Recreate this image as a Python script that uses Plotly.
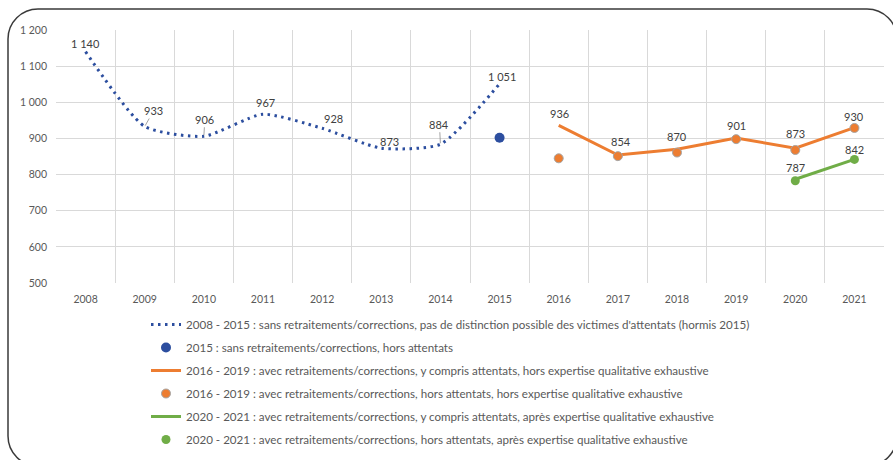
import plotly.graph_objects as go

# ---------------- data ----------------
years = [str(y) for y in range(2008, 2022)]

s1_years = ["2008", "2009", "2010", "2011", "2012", "2013", "2014", "2015"]
s1_vals = [1140, 933, 906, 967, 928, 873, 884, 1051]
s1_name = "2008 - 2015 : sans retraitements/corrections, pas de distinction possible des victimes d'attentats (hormis 2015)"

s2_years = ["2015"]
s2_vals = [902]
s2_name = "2015 : sans retraitements/corrections, hors attentats"

s3_years = ["2016", "2017", "2018", "2019", "2020", "2021"]
s3_vals = [936, 854, 870, 901, 873, 930]
s3_name = "2016 - 2019 : avec retraitements/corrections, y compris attentats, hors expertise qualitative exhaustive"

s4_years = ["2016", "2017", "2018", "2019", "2020", "2021"]
s4_vals = [845, 851, 861, 898, 868, 929]
s4_name = "2016 - 2019 : avec retraitements/corrections, hors attentats, hors expertise qualitative exhaustive"

s5_years = ["2020", "2021"]
s5_vals = [787, 842]
s5_name = "2020 - 2021 : avec retraitements/corrections, y compris attentats, après expertise qualitative exhaustive"

s6_years = ["2020", "2021"]
s6_vals = [783, 842]
s6_name = "2020 - 2021 : avec retraitements/corrections, hors attentats, après expertise qualitative exhaustive"

y_ticks = [500, 600, 700, 800, 900, 1000, 1100, 1200]

# ---------------- style ----------------
W, H = 893, 460
ML, MR, MT, MB = 56, W - 884, 30, H - 283
BLUE = "#2C4E9F"
ORANGE = "#ED7D31"
GREEN = "#70AD47"
FONT = "Lato"
LABEL_FONT = dict(size=11, color="#404040", family=FONT)


def fmt(v):
    return f"{v:,}".replace(",", " ")


def px2paper(px, py):
    return (px - ML) / (W - ML - MR), ((H - MB) - py) / (H - MT - MB)


fig = go.Figure()

fig.add_trace(go.Scatter(
    x=s1_years, y=s1_vals, name=s1_name, mode="lines",
    line=dict(color=BLUE, width=3, dash="2.5px,4.5px", shape="spline", smoothing=0.6),
    legendgroup="a",
))
fig.add_trace(go.Scatter(
    x=s2_years, y=s2_vals, name=s2_name, mode="markers",
    marker=dict(color=BLUE, size=10), legendgroup="b",
))
fig.add_trace(go.Scatter(
    x=s3_years, y=s3_vals, name=s3_name, mode="lines",
    line=dict(color=ORANGE, width=3), legendgroup="c",
))
fig.add_trace(go.Scatter(
    x=s4_years, y=s4_vals, name=s4_name, mode="markers",
    marker=dict(color=ORANGE, size=9, line=dict(color="#A5A5A5", width=1)),
    legendgroup="d",
))
fig.add_trace(go.Scatter(
    x=s5_years, y=s5_vals, name=s5_name, mode="lines",
    line=dict(color=GREEN, width=3), legendgroup="e",
))
fig.add_trace(go.Scatter(
    x=s6_years, y=s6_vals, name=s6_name, mode="markers",
    marker=dict(color=GREEN, size=9), legendgroup="f",
))

# ---------------- data labels (annotations, x as category index) ----------------
# (dx, dy, leader line) label offsets in pixels
s1_off = [(0, 8, 0), (9, 16, 1), (1, 17, 1), (2, 12, 0), (11, 10, 0), (8, 7, 0), (-1, 20, 1), (2, 7, 0)]
s3_off = [(1, 12, 0), (3, 14, 0), (0, 13, 0), (0, 13, 0), (0, 15, 0), (0, 11, 0)]
s5_off = [(0, 12, 0), (0, 10, 0)]

annos = []
for xs, vs, offs in [(s1_years, s1_vals, s1_off), (s3_years, s3_vals, s3_off),
                     (s5_years, s5_vals, s5_off)]:
    for x, v, (dx, dy, lead) in zip(xs, vs, offs):
        xi = years.index(x)
        if lead:
            annos.append(dict(x=xi, y=v, text=fmt(v), showarrow=True, arrowhead=0,
                              arrowwidth=0.8, arrowcolor="#8C8C8C", ax=dx, ay=-dy,
                              standoff=1, font=LABEL_FONT))
        else:
            annos.append(dict(x=xi, y=v, text=fmt(v), showarrow=False,
                              xshift=dx, yshift=dy, font=LABEL_FONT))

# ---------------- rounded border ----------------
L, T, R, B, r = 8, 9, 897, 466, 30
k = 0.5523 * r


def P(px, py):
    a, b = px2paper(px, py)
    return f"{a:.5f},{b:.5f}"


path = (
    f"M{P(L, T + r)} "
    f"C{P(L, T + r - k)} {P(L + r - k, T)} {P(L + r, T)} "
    f"L{P(R - r, T)} "
    f"C{P(R - r + k, T)} {P(R, T + r - k)} {P(R, T + r)} "
    f"L{P(R, B - r)} "
    f"C{P(R, B - r + k)} {P(R - r + k, B)} {P(R - r, B)} "
    f"L{P(L + r, B)} "
    f"C{P(L + r - k, B)} {P(L, B - r + k)} {P(L, B - r)} Z"
)

lx, ly = px2paper(146, 310)

fig.update_layout(
    width=W, height=H,
    margin=dict(l=ML, r=MR, t=MT, b=MB, autoexpand=False),
    paper_bgcolor="white", plot_bgcolor="white",
    separators=", ",
    font=dict(family=FONT, color="#595959", size=11),
    showlegend=True,
    legend=dict(
        orientation="v", x=lx, y=ly, xanchor="left", yanchor="top",
        font=dict(size=11.6, color="#595959", family=FONT),
        tracegroupgap=4, bgcolor="rgba(0,0,0,0)",
    ),
    xaxis=dict(
        type="category", categoryorder="array", categoryarray=years,
        range=[-0.5, len(years) - 0.5], tickson="boundaries",
        showgrid=True, gridcolor="#D9D9D9", gridwidth=1,
        showline=False, zeroline=False, ticks="",
        tickfont=dict(size=10.5, color="#595959", family=FONT),
        ticklabelstandoff=8,
    ),
    yaxis=dict(
        range=[500, 1200], tickvals=y_ticks, tickformat=",",
        showgrid=True, gridcolor="#D9D9D9", gridwidth=1,
        showline=False, zeroline=False, ticks="",
        tickfont=dict(size=10.5, color="#595959", family=FONT),
        ticklabelstandoff=8,
    ),
    annotations=annos,
    shapes=[dict(type="path", xref="paper", yref="paper", path=path,
                 line=dict(color="#3A3A3A", width=1.5), layer="above")],
)

fig.write_html(
    "out.html",
    config={"displayModeBar": False},
    post_script="document.body.style.margin='0';document.body.style.padding='0';",
)
